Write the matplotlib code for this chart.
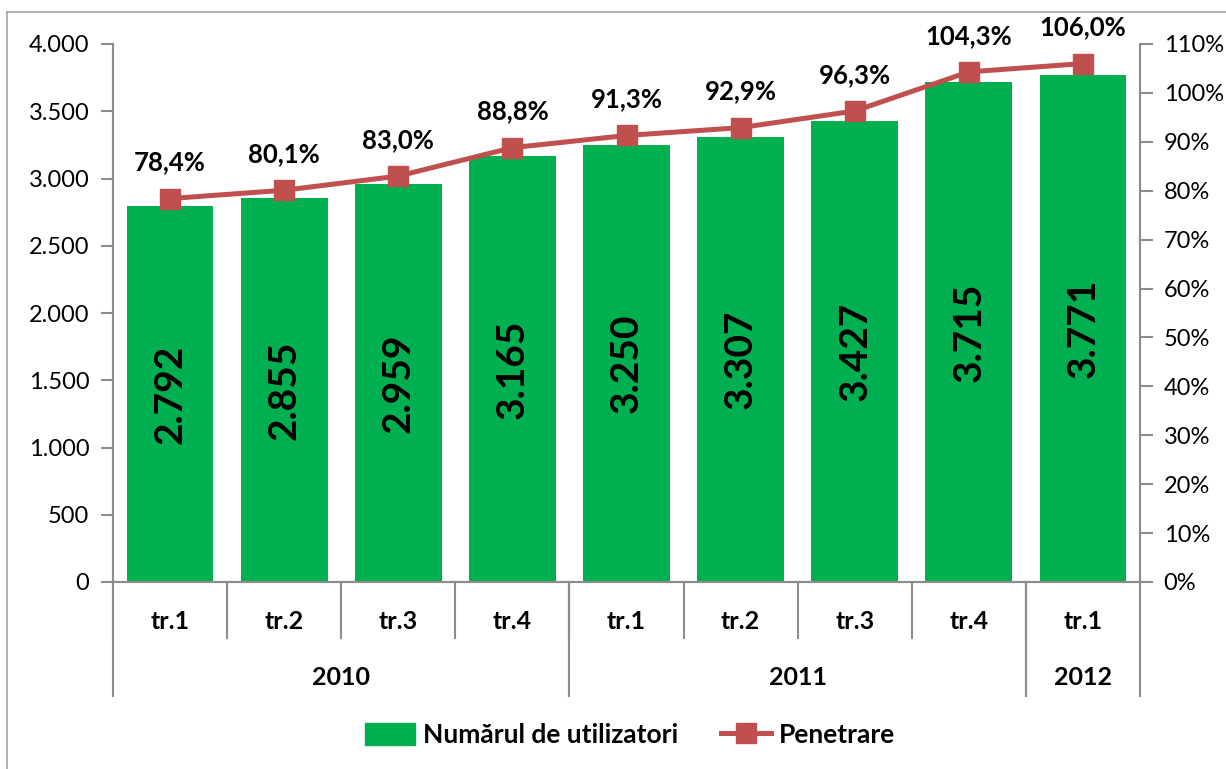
import matplotlib.pyplot as plt
import matplotlib.transforms as mtransforms
from matplotlib.patches import Patch
from matplotlib.lines import Line2D

plt.rcParams['font.family'] = ['Lato', 'DejaVu Sans']

quarters = ['tr.1', 'tr.2', 'tr.3', 'tr.4', 'tr.1', 'tr.2', 'tr.3', 'tr.4', 'tr.1']
years = ['2010', '2011', '2012']
year_counts = [4, 4, 1]
users = [2792, 2855, 2959, 3165, 3250, 3307, 3427, 3715, 3771]
penetration = [78.4, 80.1, 83.0, 88.8, 91.3, 92.9, 96.3, 104.3, 106.0]

GREEN = '#00B050'
RED = '#C0504D'
GRAY = '#8C8C8C'


def fmt_thousands(v):
    return f'{int(v):,}'.replace(',', '.')


fig = plt.figure(figsize=(12.26, 7.69), dpi=100)
# outer frame (top and left edges visible)
fig.add_artist(Line2D([7 / 1226, 7 / 1226], [0, 1 - 12 / 769], transform=fig.transFigure, color='#A6A6A6', lw=1.2))
fig.add_artist(Line2D([7 / 1226, 1], [1 - 12 / 769, 1 - 12 / 769], transform=fig.transFigure, color='#A6A6A6', lw=1.2))

ax = fig.add_axes([113 / 1226, 1 - 582 / 769, (1140 - 113) / 1226, (582 - 44) / 769])
ax2 = ax.twinx()

x = list(range(len(users)))
ax.bar(x, users, width=0.76, color=GREEN, zorder=2)
for xi, v in zip(x, users):
    ax.text(xi, v / 2, fmt_thousands(v), rotation=90, ha='center', va='center',
            fontsize=28, fontweight='bold', color='black', zorder=3)

ax.set_xlim(-0.5, len(users) - 0.5)
ax.set_ylim(0, 4000)
ax.set_yticks(range(0, 4001, 500))
ax.set_yticklabels([fmt_thousands(v) for v in range(0, 4001, 500)], fontsize=17)

ax2.plot(x, penetration, color=RED, lw=3.6, marker='s', markersize=14, zorder=4)
ax2.set_ylim(0, 110)
ax2.set_yticks(range(0, 111, 10))
ax2.set_yticklabels([f'{v}%' for v in range(0, 111, 10)], fontsize=17)
for xi, p in zip(x, penetration):
    ax2.annotate(f'{p:.1f}%'.replace('.', ','), (xi, p), xytext=(0, 26), textcoords='offset points',
                 ha='center', va='center', fontsize=18.5, fontweight='bold')

for a in (ax, ax2):
    a.spines['top'].set_visible(False)
    for s in ('left', 'right', 'bottom'):
        a.spines[s].set_color(GRAY)
        a.spines[s].set_linewidth(1.5)
    a.tick_params(axis='y', length=9, width=1.5, color=GRAY, pad=8)
ax.tick_params(axis='x', length=0, labelbottom=False)

# multi-level category axis
trans = mtransforms.blended_transform_factory(ax.transData, ax.transAxes)
for xi, q in zip(x, quarters):
    ax.text(xi, -0.074, q, transform=trans, ha='center', va='center', fontsize=18, fontweight='bold')
for b in [i - 0.5 for i in range(len(users) + 1)]:
    ax.plot([b, b], [0, -0.104], transform=trans, color=GRAY, lw=1.5, clip_on=False)
start = 0
for yr, n in zip(years, year_counts):
    ax.text(start + n / 2 - 0.5, -0.177, yr, transform=trans, ha='center', va='center',
            fontsize=18, fontweight='bold')
    for b in (start - 0.5, start + n - 0.5):
        ax.plot([b, b], [0, -0.212], transform=trans, color=GRAY, lw=1.5, clip_on=False)
    start += n

handles = [Patch(facecolor=GREEN, edgecolor=GREEN),
           Line2D([], [], color=RED, lw=3.6, marker='s', markersize=14)]
fig.legend(handles, ['Numărul de utilizatori', 'Penetrare'], loc='center',
           bbox_to_anchor=(630 / 1226, 1 - 735 / 769), ncol=2, frameon=False,
           prop={'size': 19, 'weight': 'bold'}, handlelength=1.9, handleheight=0.9,
           columnspacing=1.6, handletextpad=0.3)

fig.savefig('out.png', dpi=100)
